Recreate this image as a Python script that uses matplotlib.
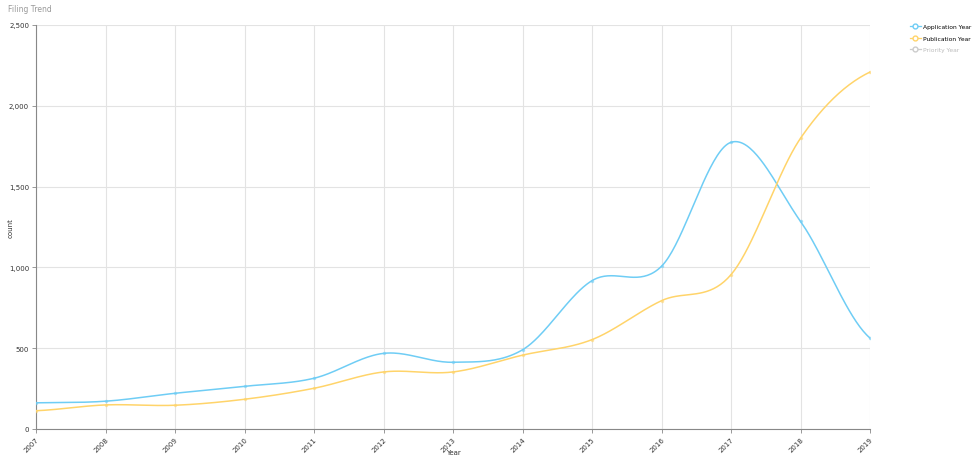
import numpy as np
import matplotlib
matplotlib.use("Agg")
import matplotlib.pyplot as plt
from matplotlib.lines import Line2D

years = [2007, 2008, 2009, 2010, 2011, 2012, 2013, 2014, 2015, 2016, 2017, 2018, 2019]
application = [162, 172, 221, 264, 314, 468, 413, 490, 918, 1007, 1774, 1285, 563]
publication = [113, 149, 147, 184, 252, 353, 353, 457, 553, 794, 955, 1799, 2209]

blue = "#6fcdf5"
yellow = "#ffd46a"
grey = "#cccccc"


def cardinal(x, y, n=40):
    # catmull-rom style smoothing through the points, like the d3 cardinal curve
    x = np.asarray(x, float)
    y = np.asarray(y, float)
    xp = np.concatenate([[2 * x[0] - x[1]], x, [2 * x[-1] - x[-2]]])
    yp = np.concatenate([[y[0]], y, [y[-1]]])
    xs, ys = [], []
    for i in range(1, len(xp) - 2):
        t = np.linspace(0, 1, n, endpoint=False)
        for arr, out in ((xp, xs), (yp, ys)):
            p0, p1, p2, p3 = arr[i - 1], arr[i], arr[i + 1], arr[i + 2]
            m1 = (p2 - p0) / 2
            m2 = (p3 - p1) / 2
            h00 = 2 * t**3 - 3 * t**2 + 1
            h10 = t**3 - 2 * t**2 + t
            h01 = -2 * t**3 + 3 * t**2
            h11 = t**3 - t**2
            out.extend(h00 * p1 + h10 * m1 + h01 * p2 + h11 * m2)
    xs.append(x[-1])
    ys.append(y[-1])
    return np.array(xs), np.array(ys)


fig = plt.figure(figsize=(9.74, 4.77), dpi=100)
ax = fig.add_axes([36 / 974, 47 / 477, 834 / 974, 404 / 477])

for vals, col in ((application, blue), (publication, yellow)):
    sx, sy = cardinal(years, vals)
    ax.plot(sx, sy, color=col, lw=1.1, zorder=3)
    ax.plot(years, vals, "o", ms=1.5, color=col, alpha=0.5, zorder=3)

ax.set_xlim(2007, 2019)
ax.set_ylim(0, 2500)
ax.set_xticks(years)
ax.set_xticklabels([str(y) for y in years], rotation=45, ha="right", va="top",
                   rotation_mode="anchor")
ax.set_yticks([0, 500, 1000, 1500, 2000, 2500])
ax.set_yticklabels(["0", "500", "1,000", "1,500", "2,000", "2,500"])
ax.tick_params(axis="both", labelsize=5, colors="#333333", length=3, width=0.6,
               color="#888888", pad=2)
ax.grid(True, color="#e3e3e3", lw=0.8)
ax.set_axisbelow(True)
for s in ("top", "right"):
    ax.spines[s].set_visible(False)
for s in ("left", "bottom"):
    ax.spines[s].set_color("#888888")
    ax.spines[s].set_linewidth(0.8)

fig.text(453 / 974, 1 - 453 / 477, "Year", fontsize=5, color="#333333",
         ha="center", va="center")
fig.text(11 / 974, 1 - 228 / 477, "count", fontsize=5, color="#333333",
         ha="center", va="center", rotation=90)

fig.text(8 / 974, 1 - 9 / 477, "Filing Trend", fontsize=5.5, color="#999999",
         va="center", ha="left")

handles = [
    Line2D([], [], color=blue, lw=0.9, marker="o", ms=3.5, mfc="white", mec=blue),
    Line2D([], [], color=yellow, lw=0.9, marker="o", ms=3.5, mfc="white", mec=yellow),
    Line2D([], [], color=grey, lw=0.9, marker="o", ms=3.5, mfc="white", mec=grey),
]
leg = fig.legend(handles, ["Application Year", "Publication Year", "Priority Year"],
                 loc="upper left", bbox_to_anchor=(910 / 974, 1 - 25 / 477),
                 frameon=False, fontsize=4.3, handlelength=1.8, handletextpad=0.4,
                 labelspacing=1.05, borderaxespad=0, borderpad=0)
leg.get_texts()[2].set_color("#bbbbbb")

fig.savefig("out.png", dpi=100)
